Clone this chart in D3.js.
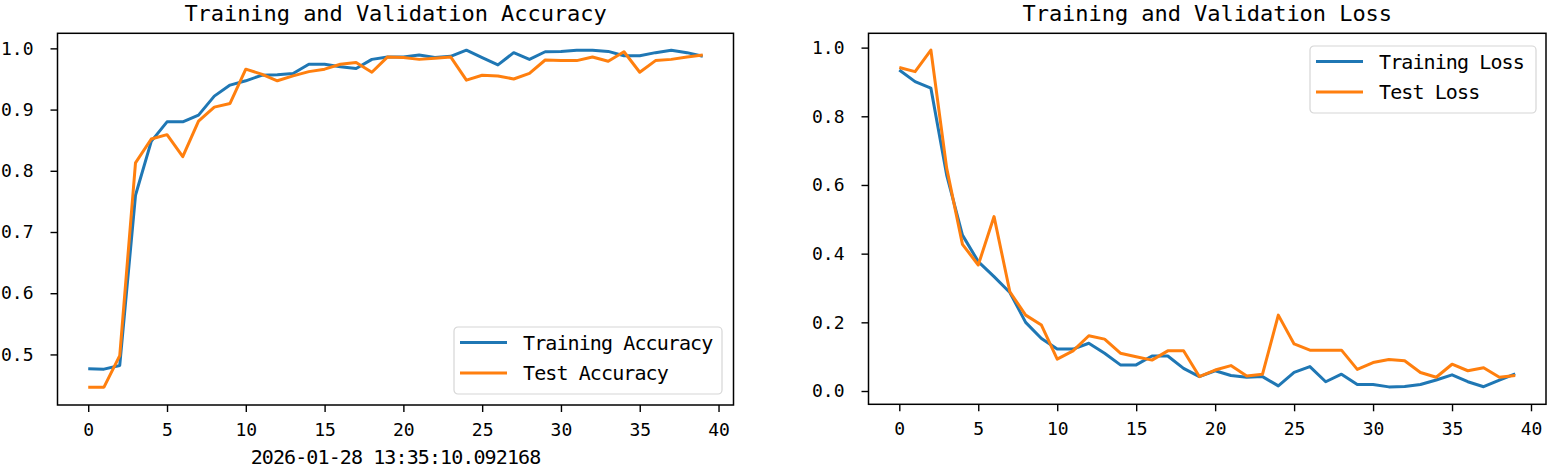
<!DOCTYPE html>
<html>
<head>
<meta charset="utf-8">
<script src="https://cdn.jsdelivr.net/npm/d3@7"></script>
<style>
  body { margin: 0; background: #fff; }
  text { font-family: "DejaVu Sans Mono", monospace; fill: #000; }
</style>
</head>
<body>
<div class="chart"></div>
<script>
// epoch values
var epochs = d3.range(40);

var trainAcc = [0.4765, 0.476, 0.482, 0.76, 0.848, 0.880, 0.880, 0.891, 0.922, 0.940,
  0.947, 0.956, 0.957, 0.959, 0.974, 0.974, 0.970, 0.967, 0.982, 0.986,
  0.986, 0.989, 0.985, 0.987, 0.997, 0.985, 0.973, 0.993, 0.982, 0.9945,
  0.995, 0.997, 0.997, 0.995, 0.988, 0.988, 0.993, 0.997, 0.993, 0.987];

var testAcc = [0.4465, 0.4465, 0.498, 0.813, 0.852, 0.859, 0.823, 0.881, 0.904, 0.910,
  0.966, 0.958, 0.947, 0.955, 0.962, 0.966, 0.974, 0.977, 0.961, 0.986,
  0.985, 0.982, 0.984, 0.986, 0.948, 0.956, 0.955, 0.950, 0.959, 0.981,
  0.980, 0.980, 0.986, 0.979, 0.9945, 0.961, 0.980, 0.982, 0.986, 0.989];

var trainLoss = [0.935, 0.901, 0.882, 0.629, 0.454, 0.377, 0.333, 0.287, 0.200, 0.153,
  0.122, 0.122, 0.139, 0.110, 0.076, 0.076, 0.102, 0.102, 0.066, 0.042,
  0.059, 0.045, 0.040, 0.042, 0.015, 0.054, 0.071, 0.027, 0.049, 0.019,
  0.019, 0.012, 0.013, 0.019, 0.032, 0.047, 0.027, 0.0125, 0.032, 0.050];

var testLoss = [0.942, 0.930, 0.993, 0.649, 0.427, 0.367, 0.508, 0.289, 0.221, 0.192,
  0.093, 0.117, 0.161, 0.151, 0.110, 0.100, 0.090, 0.117, 0.117, 0.042,
  0.061, 0.074, 0.044, 0.049, 0.221, 0.137, 0.119, 0.119, 0.119, 0.063,
  0.083, 0.092, 0.088, 0.054, 0.040, 0.078, 0.059, 0.068, 0.040, 0.045];

var xTicks = [0, 5, 10, 15, 20, 25, 30, 35, 40];
var accTicks = [0.5, 0.6, 0.7, 0.8, 0.9, 1.0];
var lossTicks = [0.0, 0.2, 0.4, 0.6, 0.8, 1.0];

var svgWidth = 1556;
var svgHeight = 472;

var blue = "#1f77b4";
var orange = "#ff7f0e";

var svg = d3.select(".chart")
  .append("svg")
  .attr("width", svgWidth)
  .attr("height", svgHeight);

function drawPanel(opt) {
  var g = svg.append("g");

  var x = d3.scaleLinear().domain([-1.95, 40.95]).range([opt.left, opt.right]);
  var y = d3.scaleLinear().domain(opt.yDomain).range([opt.bottom, opt.top]);

  var bottomAxis = d3.axisBottom(x).tickValues(xTicks).tickSize(7).tickPadding(11)
    .tickFormat(d3.format("d"));
  var leftAxis = d3.axisLeft(y).tickValues(opt.yTicks).tickSize(7).tickPadding(17)
    .tickFormat(d3.format(".1f"));

  var xa = g.append("g")
    .attr("transform", `translate(0,${opt.bottom})`)
    .call(bottomAxis);
  var ya = g.append("g")
    .attr("transform", `translate(${opt.left},0)`)
    .call(leftAxis);

  [xa, ya].forEach(function(a) {
    a.select(".domain").remove();
    a.selectAll("line").attr("stroke", "#000").attr("stroke-width", 1.4);
    a.selectAll("text")
      .style("font-family", "DejaVu Sans Mono")
      .style("font-size", "18px")
      .attr("fill", "#222");
  });

  var line = d3.line()
    .x((d, i) => x(epochs[i]))
    .y(d => y(d));

  opt.series.forEach(function(s) {
    g.append("path")
      .datum(s.values)
      .attr("d", line)
      .attr("fill", "none")
      .attr("stroke", s.color)
      .attr("stroke-width", 3)
      .attr("stroke-linejoin", "round");
  });

  // frame
  g.append("rect")
    .attr("x", opt.left)
    .attr("y", opt.top)
    .attr("width", opt.right - opt.left)
    .attr("height", opt.bottom - opt.top)
    .attr("fill", "none")
    .attr("stroke", "#000")
    .attr("stroke-width", 1.5);

  // title
  g.append("text")
    .attr("x", (opt.left + opt.right) / 2)
    .attr("y", 21)
    .attr("text-anchor", "middle")
    .style("font-size", "22px")
    .style("letter-spacing", "-0.05px")
    .attr("fill", "#222")
    .text(opt.title);

  // legend
  var lg = g.append("g").attr("transform", `translate(${opt.legend[0]},${opt.legend[1]})`);
  lg.append("rect")
    .attr("width", opt.legend[2])
    .attr("height", 67)
    .attr("rx", 4)
    .attr("fill", "#fff")
    .attr("fill-opacity", 0.8)
    .attr("stroke", "#d6d6d6")
    .attr("stroke-width", 1.2);

  opt.series.forEach(function(s, i) {
    var yy = 15.5 + i * 30.5;
    lg.append("line")
      .attr("x1", 6).attr("x2", 53)
      .attr("y1", yy).attr("y2", yy)
      .attr("stroke", s.color)
      .attr("stroke-width", 3);
    lg.append("text")
      .attr("x", 69)
      .attr("y", yy + 7)
      .style("font-size", "20px")
      .style("letter-spacing", "-0.9px")
      .attr("fill", "#222")
      .text(s.name);
  });

  return g;
}

drawPanel({
  left: 57.5, right: 733.5, top: 33.3, bottom: 405,
  yDomain: [0.4174, 1.0246],
  yTicks: accTicks,
  title: "Training and Validation Accuracy",
  legend: [454, 327, 268],
  series: [
    {name: "Training Accuracy", values: trainAcc, color: blue},
    {name: "Test Accuracy", values: testAcc, color: orange}
  ]
});

drawPanel({
  left: 868.5, right: 1546, top: 33.3, bottom: 404.3,
  yDomain: [-0.0387, 1.0417],
  yTicks: lossTicks,
  title: "Training and Validation Loss",
  legend: [1310, 46, 226],
  series: [
    {name: "Training Loss", values: trainLoss, color: blue},
    {name: "Test Loss", values: testLoss, color: orange}
  ]
});

// timestamp under the left chart
svg.append("text")
  .attr("x", 395.5)
  .attr("y", 464)
  .attr("text-anchor", "middle")
  .style("font-size", "20px")
  .style("letter-spacing", "-0.9px")
  .attr("fill", "#222")
  .text("2026-01-28 13:35:10.092168");
</script>
</body>
</html>
